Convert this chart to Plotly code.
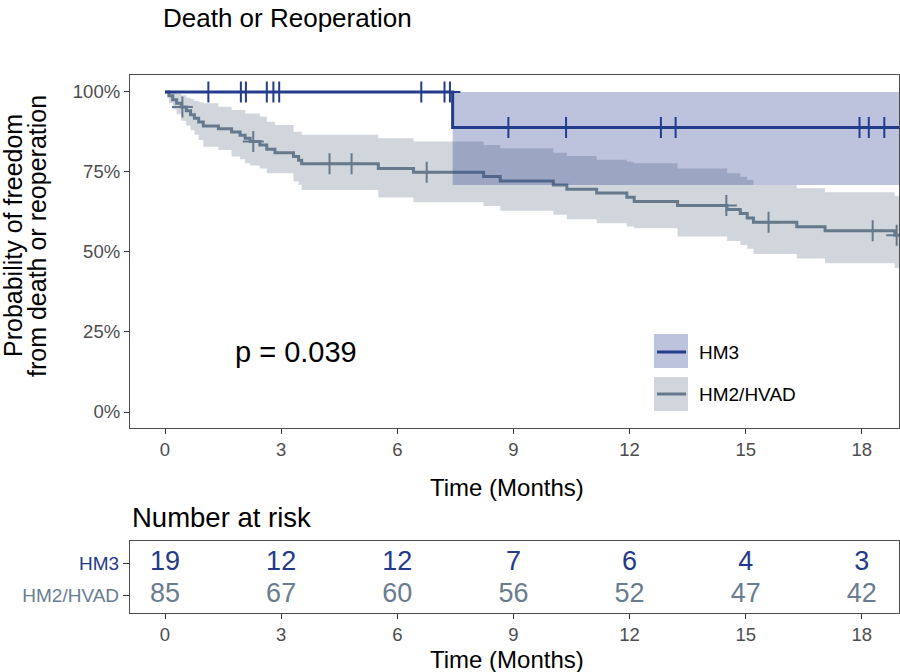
import numpy as np
import plotly.graph_objects as go

# ---------------- data ----------------
hm3_time = [0.0, 7.43, 18.96]
hm3_surv = [1.0, 0.889, 0.889]
hm3_upper = [1.0, 1.0, 1.0]
hm3_lower = [1.0, 0.709, 0.709]
hm3_censor = [1.12, 1.96, 2.09, 2.63, 2.80, 2.95, 6.62, 7.22, 7.36,
              8.87, 10.36, 12.81, 13.19, 17.94, 18.18, 18.58]

hm2_time = [0.0, 0.10, 0.20, 0.30, 0.42, 0.55, 0.66, 0.76, 0.87, 0.99,
            1.38, 1.72, 1.94, 2.07, 2.20, 2.45, 2.63, 2.84, 3.32, 3.45,
            3.53, 5.51, 6.42, 8.23, 8.66, 10.03, 10.38, 11.15, 11.93, 12.12,
            13.24, 14.52, 14.86, 15.04, 15.20, 16.32, 17.05, 18.85, 18.96]
hm2_surv = [1.0, 0.988, 0.976, 0.965, 0.953, 0.941, 0.929, 0.918, 0.906, 0.894,
            0.885, 0.875, 0.865, 0.855, 0.845, 0.834, 0.821, 0.810, 0.798, 0.787,
            0.776, 0.761, 0.749, 0.736, 0.722, 0.709, 0.696, 0.684, 0.671, 0.658,
            0.645, 0.633, 0.620, 0.606, 0.593, 0.579, 0.566, 0.552, 0.552]
hm2_upper = [1.0, 1.0, 1.0, 0.995, 0.99, 0.982, 0.978, 0.972, 0.968, 0.965,
             0.954, 0.944, 0.944, 0.933, 0.933, 0.923, 0.907, 0.897, 0.876, 0.876,
             0.866, 0.855, 0.845, 0.834, 0.824, 0.810, 0.800, 0.788, 0.782, 0.777,
             0.761, 0.746, 0.735, 0.725, 0.709, 0.699, 0.687, 0.675, 0.675]
hm2_lower = [1.0, 0.965, 0.945, 0.930, 0.910, 0.895, 0.880, 0.866, 0.850, 0.829,
             0.819, 0.798, 0.790, 0.777, 0.770, 0.761, 0.746, 0.746, 0.720, 0.710,
             0.694, 0.670, 0.655, 0.644, 0.629, 0.616, 0.602, 0.590, 0.580, 0.574,
             0.548, 0.534, 0.522, 0.510, 0.494, 0.480, 0.465, 0.450, 0.450]
hm2_censor = [0.45, 2.28, 4.25, 4.82, 6.76, 14.50, 15.59, 18.28, 18.90]

risk_times = [0, 3, 6, 9, 12, 15, 18]
risk_hm3 = [19, 12, 12, 7, 6, 4, 3]
risk_hm2 = [85, 67, 60, 56, 52, 47, 42]

x_ticks = [0, 3, 6, 9, 12, 15, 18]
y_ticks = [0, 0.25, 0.5, 0.75, 1.0]
y_ticklabels = ["0%", "25%", "50%", "75%", "100%"]
groups = ["HM3", "HM2/HVAD"]

# ---------------- styles ----------------
FONT = "Liberation Sans, Arial, Helvetica, sans-serif"
C_HM3 = "#233c8c"
C_HM2 = "#66798c"
F_HM3 = "rgba(35,55,140,0.30)"
F_HM2 = "rgba(100,120,138,0.30)"
TXT_HM3 = "#25398a"
TXT_HM2 = "#6a7d90"
W, H = 900, 672


def step_value(times, vals, t):
    i = np.searchsorted(np.asarray(times), t, side="right") - 1
    return vals[max(i, 0)]


def py(px):
    return (H - px) / H


def pxx(px):
    return px / W


fig = go.Figure()

# HM2 band + line
fig.add_trace(go.Scatter(x=hm2_time, y=hm2_lower, mode="lines", line=dict(width=0, shape="hv"),
                         showlegend=False, hoverinfo="skip"))
fig.add_trace(go.Scatter(x=hm2_time, y=hm2_upper, mode="lines", line=dict(width=0, shape="hv"),
                         fill="tonexty", fillcolor=F_HM2, showlegend=False, hoverinfo="skip"))
fig.add_trace(go.Scatter(x=hm2_time, y=hm2_surv, mode="lines", name=groups[1],
                         line=dict(color=C_HM2, width=3, shape="hv"), showlegend=False))

# HM3 band + line
fig.add_trace(go.Scatter(x=hm3_time, y=hm3_lower, mode="lines", line=dict(width=0, shape="hv"),
                         showlegend=False, hoverinfo="skip"))
fig.add_trace(go.Scatter(x=hm3_time, y=hm3_upper, mode="lines", line=dict(width=0, shape="hv"),
                         fill="tonexty", fillcolor=F_HM3, showlegend=False, hoverinfo="skip"))
fig.add_trace(go.Scatter(x=hm3_time, y=hm3_surv, mode="lines", name=groups[0],
                         line=dict(color=C_HM3, width=3, shape="hv"), showlegend=False))

# censor marks
fig.add_trace(go.Scatter(x=hm2_censor, y=[step_value(hm2_time, hm2_surv, t) for t in hm2_censor],
                         mode="markers", showlegend=False,
                         marker=dict(symbol="cross-thin", size=15, line=dict(color=C_HM2, width=2))))
fig.add_trace(go.Scatter(x=hm3_censor, y=[step_value(hm3_time, hm3_surv, t) for t in hm3_censor],
                         mode="markers", showlegend=False,
                         marker=dict(symbol="cross-thin", size=15, line=dict(color=C_HM3, width=2))))

# risk table
fig.add_trace(go.Scatter(x=risk_times, y=[2] * len(risk_times), mode="text",
                         text=[str(v) for v in risk_hm3], textposition="middle center",
                         textfont=dict(family=FONT, size=27, color=TXT_HM3),
                         xaxis="x2", yaxis="y2", showlegend=False))
fig.add_trace(go.Scatter(x=risk_times, y=[1] * len(risk_times), mode="text",
                         text=[str(v) for v in risk_hm2], textposition="middle center",
                         textfont=dict(family=FONT, size=27, color=TXT_HM2),
                         xaxis="x2", yaxis="y2", showlegend=False))

axis_common = dict(showgrid=False, zeroline=False, showline=True, mirror=True,
                   linecolor="#4d4d4d", linewidth=1.3, ticks="outside", ticklen=5,
                   tickwidth=1.3, tickcolor="#333333",
                   tickfont=dict(family=FONT, size=18.5, color="#4d4d4d"))
axis_risk_y = dict(axis_common)
axis_risk_y["tickfont"] = dict(family=FONT, size=19, color="#4d4d4d")
axis_risk_y["ticklen"] = 6

fig.update_layout(
    width=W, height=H,
    margin=dict(l=0, r=0, t=0, b=0),
    paper_bgcolor="white", plot_bgcolor="white",
    font=dict(family=FONT),
    title=dict(text="Death or Reoperation", x=pxx(163), xanchor="left",
               y=py(18), yanchor="middle", font=dict(family=FONT, size=26, color="black")),
    xaxis=dict(domain=[pxx(130), pxx(899)], range=[-0.904, 18.96], tickvals=x_ticks,
               anchor="y", **axis_common),
    yaxis=dict(domain=[py(428), py(75)], range=[-0.05, 1.053], tickvals=y_ticks,
               ticktext=y_ticklabels, anchor="x", **axis_common),
    xaxis2=dict(domain=[pxx(130), pxx(899)], range=[-0.904, 18.96], tickvals=x_ticks,
                anchor="y2", **axis_common),
    yaxis2=dict(domain=[py(613), py(541)], range=[0.4375, 2.6875], tickvals=[2, 1],
                ticktext=[f"<span style='color:{TXT_HM3}'>HM3</span>",
                          f"<span style='color:{TXT_HM2}'>HM2/HVAD</span>"],
                anchor="x2", **axis_risk_y),
    showlegend=False,
)

annotations = [
    dict(text="Probability of freedom", x=pxx(13), y=py(236),
         textangle=-90, font=dict(family=FONT, size=25, color="black")),
    dict(text="from death or reoperation", x=pxx(37), y=py(236),
         textangle=-90, font=dict(family=FONT, size=25, color="black")),
    dict(text="Time (Months)", x=pxx(507), y=py(487), font=dict(family=FONT, size=24, color="black")),
    dict(text="p = 0.039", x=pxx(233), y=py(352), xanchor="left",
         font=dict(family=FONT, size=29, color="black")),
    dict(text="Number at risk", x=pxx(130), y=py(517), xanchor="left",
         font=dict(family=FONT, size=27.5, color="black")),
    dict(text="Time (Months)", x=pxx(507), y=py(659), font=dict(family=FONT, size=24, color="black")),
    dict(text="HM3", x=pxx(697), y=py(352), xanchor="left",
         font=dict(family=FONT, size=19, color="black")),
    dict(text="HM2/HVAD", x=pxx(697), y=py(394), xanchor="left",
         font=dict(family=FONT, size=19, color="black")),
]
for a in annotations:
    a.update(xref="paper", yref="paper", showarrow=False, yanchor="middle")
    a.setdefault("xanchor", "center")
fig.update_layout(annotations=annotations)

# legend keys
shapes = [
    dict(type="rect", x0=pxx(654), x1=pxx(688), y0=py(368), y1=py(334), fillcolor=F_HM3,
         line=dict(width=0)),
    dict(type="line", x0=pxx(657), x1=pxx(686), y0=py(352), y1=py(352),
         line=dict(color=C_HM3, width=3)),
    dict(type="rect", x0=pxx(654), x1=pxx(688), y0=py(411), y1=py(377), fillcolor=F_HM2,
         line=dict(width=0)),
    dict(type="line", x0=pxx(657), x1=pxx(686), y0=py(394), y1=py(394),
         line=dict(color=C_HM2, width=3)),
]
for s in shapes:
    s.update(xref="paper", yref="paper")
fig.update_layout(shapes=shapes)

fig.write_html("out.html", config={"displayModeBar": False},
               post_script="document.body.style.margin='0';document.body.style.overflow='hidden';")
